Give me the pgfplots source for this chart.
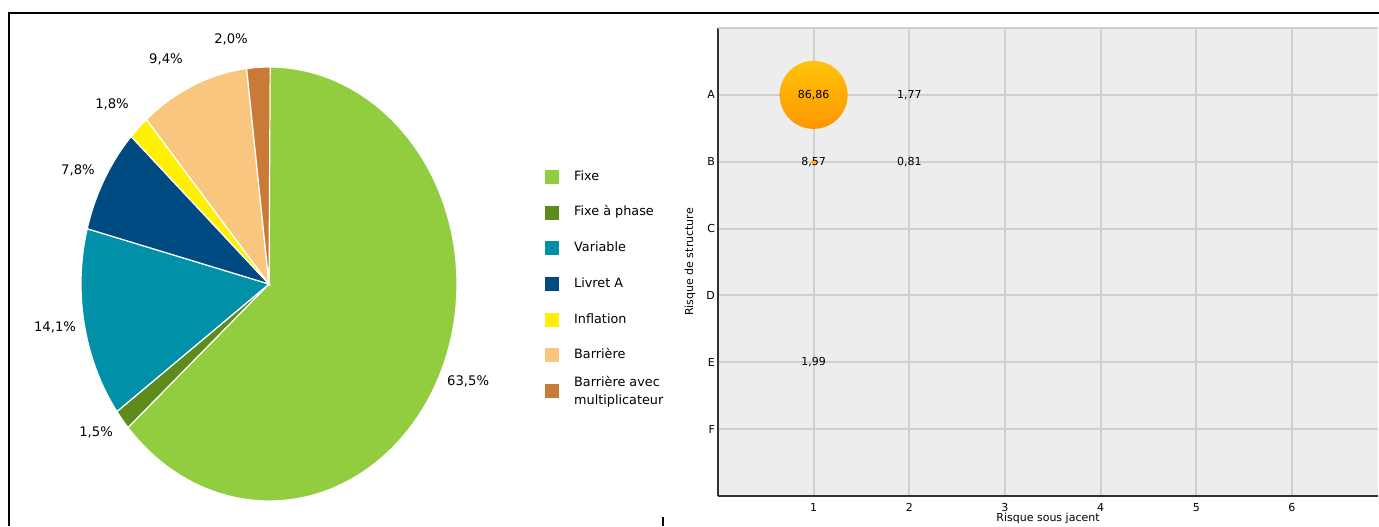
\documentclass[border=0pt]{standalone}
\usepackage{fontspec}
\setmainfont{DejaVu Sans}
\usepackage{pgfplots}
\usepackage{pgfplotstable}
\pgfplotsset{compat=1.18}
\definecolor{cfixe}{RGB}{146,205,64}
\definecolor{cphase}{RGB}{94,140,28}
\definecolor{cvar}{RGB}{0,145,168}
\definecolor{clivret}{RGB}{0,74,130}
\definecolor{cinfl}{RGB}{255,240,0}
\definecolor{cbarr}{RGB}{249,198,127}
\definecolor{cbarrm}{RGB}{200,122,54}
\definecolor{bgray}{RGB}{237,237,237}
\definecolor{gridc}{RGB}{208,208,208}
\definecolor{bubtop}{RGB}{255,195,10}
\definecolor{bubbot}{RGB}{255,150,0}
\pgfdeclareverticalshading{bubshade}{100bp}{color(0bp)=(bubbot); color(25bp)=(bubbot); color(75bp)=(bubtop); color(100bp)=(bubtop)}
\pgfdeclareplotmark{gball}{%
  \pgfpathcircle{\pgfpointorigin}{\pgfplotmarksize}%
  \pgfshadepath{bubshade}{0}%
  \pgfusepath{discard}}

% pie: share (%), colour, label position (axis units)
\pgfplotstableread{
pct  col      lx      ly
63.5 cfixe    1.059  -0.447
1.5  cphase  -0.920  -0.682
14.1 cvar    -1.138  -0.198
7.8  clivret -1.016   0.525
1.8  cinfl   -0.835   0.829
9.4  cbarr   -0.548   1.037
2.0  cbarrm  -0.202   1.129
}\piedata

% bubbles: x = risque sous jacent, y = risque de structure (A=6 ... F=1)
\pgfplotstableread{
x y v     r
1 6 86.86 17
1 5 8.57  1.2
2 6 1.77  0
2 5 0.81  0
1 2 1.99  0
}\bubdata

\begin{document}
\begin{tikzpicture}
\useasboundingbox (0,0) rectangle (689.5pt,-263pt);
% frame of the screenshot
\draw[line width=0.8pt] (4.5pt,-263pt) -- (4.5pt,-6.5pt) -- (689.5pt,-6.5pt);
\draw[line width=0.8pt] (331.5pt,-258.5pt) -- (331.5pt,-263pt);

% ---------------- pie ----------------
\begin{axis}[
  at={(12.3pt,-272.2pt)}, anchor=south west,
  x=94pt, y=108.5pt,
  xmin=-1.3, xmax=1.3, ymin=-1.2, ymax=1.2,
  enlargelimits=false,
  hide axis, clip=false,
  legend image code/.code={\fill[#1] (0pt,-3.25pt) rectangle (6.5pt,3.25pt);},
  legend cell align=left,
  legend style={draw=none, fill=none, inner sep=0pt,
    at={(axis cs:1.468,0.5276)}, anchor=north west,
    row sep=10.95pt, column sep=7.5pt,
    font=\fontsize{6.4}{7.7}\selectfont,
    nodes={inner sep=0pt, text height=4.8pt, text depth=1.4pt}},
]
\pgfplotsextra{%
  \gdef\cum{0}%
  \foreach \i in {0,...,6}{%
    \pgfplotstablegetelem{\i}{pct}\of\piedata \let\spct\pgfplotsretval
    \pgfplotstablegetelem{\i}{col}\of\piedata \let\scol\pgfplotsretval
    \pgfplotstablegetelem{\i}{lx}\of\piedata \let\slx\pgfplotsretval
    \pgfplotstablegetelem{\i}{ly}\of\piedata \let\sly\pgfplotsretval
    \pgfmathsetmacro\sa{90-3.6*\cum}%
    \pgfmathsetmacro\sb{90-3.6*(\cum+\spct)}%
    \pgfmathsetmacro\sca{cos(\sa)}%
    \pgfmathsetmacro\ssa{sin(\sa)}%
    \fill[\scol, draw=white, line width=0.6pt] (axis cs:0,0) -- (axis cs:\sca,\ssa)
      arc[start angle=\sa, end angle=\sb, x radius=94pt, y radius=108.5pt] -- cycle;
    \node[font=\fontsize{6.6}{7.9}\selectfont] at (axis cs:\slx,\sly)
      {\pgfmathprintnumber[fixed, fixed zerofill, precision=1, use comma, assume math mode=true]{\spct}\%};
    \pgfmathsetmacro\newcum{\cum+\spct}%
    \xdef\cum{\newcum}%
  }%
}
\addlegendimage{cfixe}\addlegendentry{Fixe}
\addlegendimage{cphase}\addlegendentry{Fixe à phase}
\addlegendimage{cvar}\addlegendentry{Variable}
\addlegendimage{clivret}\addlegendentry{Livret A}
\addlegendimage{cinfl}\addlegendentry{Inflation}
\addlegendimage{cbarr}\addlegendentry{Barrière}
\addlegendimage{cbarrm}\addlegendentry{\renewcommand{\arraystretch}{1.17}\begin{tabular}{@{}l@{}}Barrière avec\\multiplicateur\end{tabular}}
\end{axis}

% ---------------- bubble chart ----------------
\begin{axis}[
  at={(359pt,-248pt)}, anchor=south west,
  scale only axis, width=330pt, height=234pt,
  xmin=0, xmax=6.9, ymin=0, ymax=7,
  enlargelimits=false,
  axis background/.style={fill=bgray},
  axis x line*=bottom, axis y line*=left,
  axis line style={line width=1pt, color=black!80},
  xtick={1,...,6},
  ytick={1,...,6}, yticklabels={F,E,D,C,B,A},
  extra y ticks={7}, extra y tick labels={},
  grid=major,
  major grid style={gridc, line width=1pt},
  major tick length=0pt,
  ticklabel style={font=\fontsize{5.5}{6.6}\selectfont},
  yticklabel style={xshift=2pt},
  /pgf/number format/assume math mode=true,
  xlabel={Risque sous jacent},
  ylabel={Risque de structure},
  label style={font=\fontsize{5.5}{6.6}\selectfont},
  xlabel style={at={(axis description cs:0.5,-0.049)}, anchor=center},
  ylabel style={at={(axis description cs:-0.0424,0.5)}, anchor=center},
  clip=false,
]
\addplot[scatter, only marks, mark=gball,
  scatter/use mapped color={draw=none, fill=bubbot},
  restrict expr to domain={\thisrow{r}}{0.5:1000},
  visualization depends on={\thisrow{r} \as \rad},
  scatter/@pre marker code/.append style={/tikz/mark size=\rad}]
  table[x=x, y=y] {\bubdata};
\addplot[draw=none, point meta=\thisrow{v},
  nodes near coords,
  every node near coord/.append style={anchor=center, inner sep=0pt,
    font=\fontsize{5.5}{6.6}\selectfont,
    /pgf/number format/fixed, /pgf/number format/fixed zerofill,
    /pgf/number format/precision=2, /pgf/number format/use comma,
    /pgf/number format/assume math mode=true}]
  table[x=x, y=y] {\bubdata};
\end{axis}
\end{tikzpicture}
\end{document}
